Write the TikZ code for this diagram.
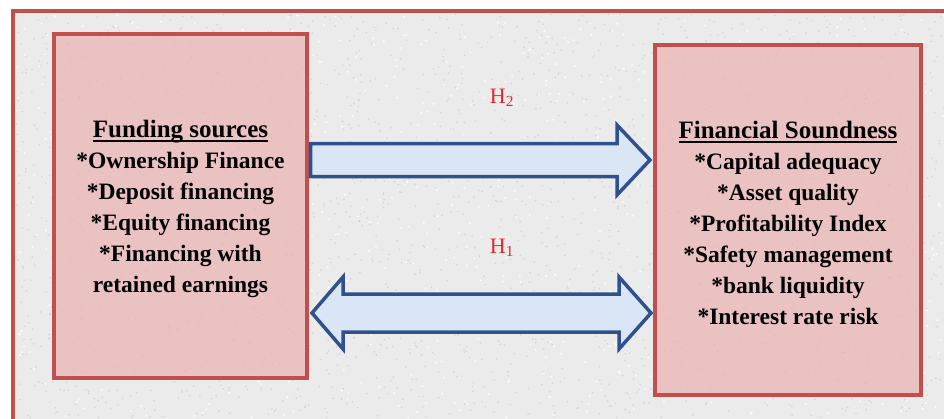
\documentclass[tikz,border=0pt]{standalone}
\usepackage{fontspec}
\setmainfont{Liberation Serif}
\usetikzlibrary{calc}

\definecolor{framered}{HTML}{C0504D}
\definecolor{boxpink}{HTML}{EBC2C2}
\definecolor{panel}{HTML}{EBEBEB}
\definecolor{arrowline}{HTML}{2F528F}
\definecolor{arrowfill}{HTML}{DAE6F5}
\definecolor{hred}{HTML}{E3262A}

% heading with a heavy underline that does not change the line spacing
\newcommand\headrule[1]{\setbox0\hbox{\fontsize{25}{31}\selectfont #1}\rlap{\rule[-4.5pt]{\wd0}{2.2pt}}\box0}

\begin{document}
\begin{tikzpicture}[x=1pt,y=-1pt,
  factorbox/.style={draw=framered, line width=4pt, fill=boxpink, inner sep=0pt},
  boxtext/.style={align=center, inner sep=0pt, font=\fontsize{23.5}{31}\selectfont\bfseries},
  blockarrow/.style={draw=arrowline, line width=3.5pt, fill=arrowfill, line join=miter},
  hyp/.style={text=hred, inner sep=0pt, font=\fontsize{22}{24}\selectfont}]
\useasboundingbox (0,0) rectangle (944,418);
\clip (0,0) rectangle (944,418);
\fill[white] (0,0) rectangle (944,418);

% textured panel
\draw[framered, line width=4pt, fill=panel] (13,11) rectangle (970,440);
\pgfmathsetseed{12}
\foreach \i in {1,...,2200}{
  \fill[gray!55, opacity=.45] (16+rnd*928, 14+rnd*404) circle (0.9);
}
\foreach \i in {1,...,900}{
  \fill[white, opacity=.8] (16+rnd*928, 14+rnd*404) circle (1.2);
}

% the two factor boxes
\node[factorbox, minimum width=253pt, minimum height=344pt] (src) at (180.5,206) {};
\node[factorbox, minimum width=266pt, minimum height=350pt] (snd) at (788,220) {};
\foreach \i in {1,...,600}{
  \fill[framered!45, opacity=.35] (57+rnd*247, 37+rnd*338) circle (1.0);
  \fill[framered!45, opacity=.35] (658+rnd*260, 48+rnd*344) circle (1.0);
}
\node[boxtext] (srctext) at ($(src.center)+(0,3)$) {\headrule{Funding sources}\\
  *Ownership Finance\\ *Deposit financing\\ *Equity financing\\
  *Financing with\\ retained earnings};
\node[boxtext] (sndtext) at ($(snd.center)+(0,3)$) {\headrule{Financial Soundness}\\
  *Capital adequacy\\ *Asset quality\\ *Profitability Index\\
  *Safety management\\ *bank liquidity\\ *Interest rate risk};

% H2: one-way block arrow
\coordinate (a0) at ($(src.east |- 0,160)+(1.5,0)$);
\coordinate (a1) at ($(snd.west |- 0,160)+(-3,0)$);
\draw[blockarrow] ($(a0)+(0,-16.5)$) -- ($(a1)+(-33,-16.5)$) -- ($(a1)+(-33,-35)$)
  -- (a1) -- ($(a1)+(-33,35)$) -- ($(a1)+(-33,16.5)$) -- ($(a0)+(0,16.5)$) -- cycle;

% H1: two-way block arrow
\coordinate (b0) at ($(src.east |- 0,313)+(3,0)$);
\coordinate (b1) at ($(snd.west |- 0,313)+(-2,0)$);
\draw[blockarrow] (b0) -- ($(b0)+(31,-36)$) -- ($(b0)+(31,-19)$) -- ($(b1)+(-32,-19)$)
  -- ($(b1)+(-32,-36)$) -- (b1) -- ($(b1)+(-32,36)$) -- ($(b1)+(-32,19)$)
  -- ($(b0)+(31,19)$) -- ($(b0)+(31,36)$) -- cycle;

\node[hyp] (h2) at (502,98) {H\textsubscript{2}};
\node[hyp] (h1) at (502,248) {H\textsubscript{1}};
\end{tikzpicture}
\end{document}
